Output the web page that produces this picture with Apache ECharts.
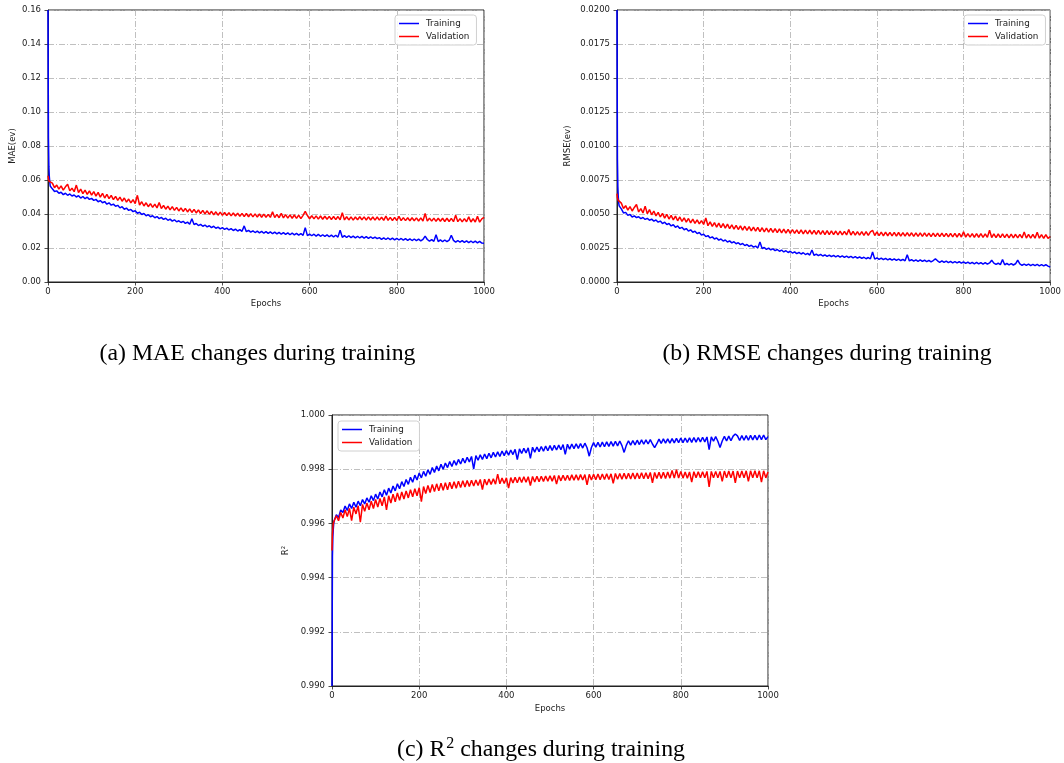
<!DOCTYPE html>
<html><head><meta charset="utf-8">
<script src="https://cdn.jsdelivr.net/npm/echarts@6/dist/echarts.min.js"></script>
<style>html,body{margin:0;padding:0;background:#fff}#c{width:1064px;height:763px}</style>
</head><body><div id="c"></div>
<script>
var epochs = [0,1,2,3,4,5,
10,15,20,25,30,35,40,45,50,55,
60,65,70,75,80,85,90,95,100,105,
110,115,120,125,130,135,140,145,150,155,
160,165,170,175,180,185,190,195,200,205,
210,215,220,225,230,235,240,245,250,255,
260,265,270,275,280,285,290,295,300,305,
310,315,320,325,330,335,340,345,350,355,
360,365,370,375,380,385,390,395,400,405,
410,415,420,425,430,435,440,445,450,455,
460,465,470,475,480,485,490,495,500,505,
510,515,520,525,530,535,540,545,550,555,
560,565,570,575,580,585,590,595,600,605,
610,615,620,625,630,635,640,645,650,655,
660,665,670,675,680,685,690,695,700,705,
710,715,720,725,730,735,740,745,750,755,
760,765,770,775,780,785,790,795,800,805,
810,815,820,825,830,835,840,845,850,855,
860,865,870,875,880,885,890,895,900,905,
910,915,920,925,930,935,940,945,950,955,
960,965,970,975,980,985,990,995,1000];

var maeTrain = [0.1600,0.0850,0.0680,0.0620,0.0590,0.0565,
0.0548,0.0532,0.0536,0.0522,0.0528,0.0514,0.0522,0.0510,0.0518,0.0506,
0.0512,0.0500,0.0508,0.0494,0.0503,0.0490,0.0499,0.0486,0.0492,0.0480,
0.0486,0.0472,0.0479,0.0466,0.0473,0.0458,0.0466,0.0452,0.0458,0.0446,
0.0451,0.0436,0.0443,0.0428,0.0435,0.0421,0.0427,0.0414,0.0419,0.0404,
0.0410,0.0397,0.0403,0.0390,0.0396,0.0384,0.0390,0.0378,0.0385,0.0373,
0.0380,0.0368,0.0375,0.0363,0.0370,0.0358,0.0366,0.0354,0.0360,0.0350,
0.0357,0.0345,0.0352,0.0340,0.0372,0.0338,0.0344,0.0332,0.0339,0.0328,
0.0335,0.0324,0.0331,0.0320,0.0328,0.0316,0.0323,0.0313,0.0320,0.0310,
0.0317,0.0306,0.0314,0.0303,0.0311,0.0300,0.0308,0.0298,0.0330,0.0296,
0.0304,0.0293,0.0301,0.0291,0.0299,0.0289,0.0298,0.0287,0.0296,0.0286,
0.0295,0.0284,0.0293,0.0283,0.0292,0.0281,0.0290,0.0280,0.0289,0.0278,
0.0288,0.0277,0.0286,0.0276,0.0285,0.0274,0.0320,0.0273,0.0282,0.0272,
0.0281,0.0270,0.0280,0.0269,0.0278,0.0268,0.0277,0.0266,0.0276,0.0265,
0.0275,0.0264,0.0305,0.0263,0.0273,0.0262,0.0272,0.0261,0.0270,0.0260,
0.0269,0.0259,0.0268,0.0258,0.0267,0.0257,0.0266,0.0256,0.0264,0.0255,
0.0261,0.0251,0.0260,0.0250,0.0259,0.0249,0.0258,0.0248,0.0257,0.0247,
0.0256,0.0246,0.0255,0.0245,0.0254,0.0244,0.0253,0.0243,0.0252,0.0242,
0.0251,0.0270,0.0250,0.0240,0.0249,0.0239,0.0278,0.0238,0.0248,0.0237,
0.0247,0.0237,0.0246,0.0275,0.0245,0.0235,0.0244,0.0234,0.0243,0.0233,
0.0242,0.0232,0.0241,0.0231,0.0240,0.0230,0.0239,0.0229,0.0228];

var maeVal = [0.0625,0.0605,0.0598,0.0592,0.0588,0.0585,
0.0582,0.0555,0.0570,0.0546,0.0565,0.0540,0.0560,0.0575,0.0536,0.0552,
0.0531,0.0570,0.0526,0.0546,0.0520,0.0540,0.0515,0.0536,0.0511,0.0532,
0.0505,0.0527,0.0499,0.0522,0.0494,0.0516,0.0490,0.0510,0.0485,0.0504,
0.0480,0.0499,0.0475,0.0494,0.0470,0.0488,0.0465,0.0484,0.0461,0.0510,
0.0453,0.0472,0.0447,0.0466,0.0443,0.0461,0.0439,0.0458,0.0436,0.0468,
0.0432,0.0451,0.0428,0.0446,0.0424,0.0443,0.0421,0.0439,0.0418,0.0436,
0.0415,0.0433,0.0412,0.0430,0.0409,0.0427,0.0406,0.0424,0.0403,0.0421,
0.0401,0.0419,0.0398,0.0416,0.0395,0.0413,0.0393,0.0411,0.0392,0.0409,
0.0391,0.0408,0.0389,0.0406,0.0388,0.0405,0.0386,0.0404,0.0385,0.0403,
0.0384,0.0402,0.0383,0.0401,0.0382,0.0400,0.0381,0.0399,0.0381,0.0398,
0.0380,0.0413,0.0379,0.0398,0.0378,0.0404,0.0377,0.0396,0.0376,0.0395,
0.0375,0.0394,0.0374,0.0393,0.0373,0.0392,0.0415,0.0391,0.0372,0.0390,
0.0371,0.0389,0.0370,0.0388,0.0369,0.0387,0.0369,0.0386,0.0368,0.0385,
0.0367,0.0385,0.0366,0.0407,0.0365,0.0384,0.0365,0.0383,0.0364,0.0382,
0.0366,0.0384,0.0366,0.0383,0.0365,0.0383,0.0365,0.0382,0.0364,0.0382,
0.0364,0.0381,0.0363,0.0388,0.0363,0.0380,0.0362,0.0380,0.0362,0.0386,
0.0361,0.0379,0.0361,0.0378,0.0360,0.0378,0.0360,0.0377,0.0359,0.0377,
0.0359,0.0403,0.0358,0.0376,0.0358,0.0376,0.0357,0.0375,0.0357,0.0375,
0.0356,0.0375,0.0356,0.0374,0.0355,0.0392,0.0355,0.0373,0.0354,0.0373,
0.0354,0.0383,0.0353,0.0372,0.0353,0.0386,0.0352,0.0371,0.0380];

var rmseTrain = [0.02000,0.00900,0.00700,0.00620,0.00580,0.00560,
0.00538,0.00508,0.00512,0.00490,0.00497,0.00478,0.00486,0.00474,0.00480,0.00466,
0.00474,0.00460,0.00468,0.00454,0.00462,0.00448,0.00456,0.00440,0.00448,0.00430,
0.00440,0.00422,0.00430,0.00412,0.00421,0.00402,0.00412,0.00394,0.00402,0.00384,
0.00393,0.00374,0.00384,0.00366,0.00374,0.00356,0.00364,0.00345,0.00352,0.00334,
0.00341,0.00324,0.00332,0.00316,0.00324,0.00308,0.00316,0.00301,0.00309,0.00294,
0.00302,0.00288,0.00296,0.00281,0.00289,0.00275,0.00283,0.00268,0.00276,0.00262,
0.00270,0.00256,0.00264,0.00250,0.00295,0.00246,0.00254,0.00240,0.00249,0.00236,
0.00244,0.00231,0.00239,0.00226,0.00235,0.00221,0.00230,0.00217,0.00226,0.00213,
0.00222,0.00209,0.00218,0.00206,0.00215,0.00202,0.00211,0.00198,0.00235,0.00196,
0.00205,0.00194,0.00203,0.00191,0.00200,0.00189,0.00198,0.00187,0.00196,0.00185,
0.00194,0.00183,0.00192,0.00181,0.00190,0.00180,0.00188,0.00177,0.00186,0.00175,
0.00184,0.00173,0.00182,0.00171,0.00180,0.00170,0.00220,0.00168,0.00177,0.00166,
0.00175,0.00164,0.00173,0.00162,0.00171,0.00161,0.00170,0.00159,0.00168,0.00158,
0.00167,0.00156,0.00200,0.00155,0.00165,0.00154,0.00163,0.00152,0.00162,0.00151,
0.00160,0.00149,0.00159,0.00148,0.00158,0.00170,0.00156,0.00145,0.00155,0.00144,
0.00153,0.00142,0.00152,0.00141,0.00150,0.00140,0.00149,0.00138,0.00148,0.00137,
0.00146,0.00135,0.00145,0.00134,0.00144,0.00133,0.00143,0.00132,0.00142,0.00131,
0.00140,0.00160,0.00139,0.00129,0.00138,0.00128,0.00165,0.00127,0.00136,0.00126,
0.00135,0.00125,0.00134,0.00160,0.00133,0.00123,0.00132,0.00122,0.00131,0.00121,
0.00130,0.00120,0.00129,0.00119,0.00128,0.00118,0.00127,0.00117,0.00110];

var rmseVal = [0.00650,0.00620,0.00610,0.00600,0.00590,0.00590,
0.00580,0.00540,0.00562,0.00528,0.00555,0.00522,0.00548,0.00570,0.00515,0.00540,
0.00508,0.00558,0.00502,0.00532,0.00494,0.00522,0.00486,0.00512,0.00478,0.00505,
0.00470,0.00498,0.00463,0.00490,0.00457,0.00484,0.00450,0.00478,0.00445,0.00472,
0.00440,0.00467,0.00435,0.00462,0.00431,0.00457,0.00427,0.00452,0.00423,0.00470,
0.00414,0.00442,0.00409,0.00437,0.00404,0.00433,0.00400,0.00429,0.00396,0.00425,
0.00392,0.00421,0.00389,0.00417,0.00386,0.00413,0.00382,0.00410,0.00379,0.00407,
0.00376,0.00404,0.00374,0.00401,0.00371,0.00399,0.00369,0.00397,0.00367,0.00395,
0.00365,0.00393,0.00363,0.00391,0.00361,0.00389,0.00360,0.00387,0.00358,0.00386,
0.00357,0.00384,0.00356,0.00383,0.00354,0.00382,0.00353,0.00381,0.00352,0.00380,
0.00351,0.00379,0.00350,0.00378,0.00349,0.00377,0.00348,0.00376,0.00348,0.00375,
0.00347,0.00374,0.00346,0.00373,0.00346,0.00385,0.00345,0.00372,0.00344,0.00371,
0.00344,0.00370,0.00343,0.00370,0.00342,0.00369,0.00380,0.00342,0.00368,0.00341,
0.00367,0.00340,0.00366,0.00340,0.00365,0.00339,0.00365,0.00338,0.00364,0.00338,
0.00363,0.00337,0.00363,0.00337,0.00362,0.00336,0.00362,0.00336,0.00361,0.00335,
0.00361,0.00335,0.00360,0.00334,0.00360,0.00334,0.00359,0.00333,0.00359,0.00333,
0.00358,0.00332,0.00358,0.00332,0.00357,0.00331,0.00357,0.00331,0.00369,0.00330,
0.00356,0.00330,0.00356,0.00329,0.00355,0.00329,0.00355,0.00328,0.00354,0.00328,
0.00380,0.00327,0.00354,0.00327,0.00353,0.00326,0.00353,0.00326,0.00352,0.00325,
0.00352,0.00325,0.00351,0.00324,0.00351,0.00324,0.00367,0.00323,0.00350,0.00323,
0.00350,0.00322,0.00365,0.00322,0.00349,0.00321,0.00349,0.00321,0.00335];

var r2Train = [0.99000,0.99480,0.99550,0.99580,0.99600,0.99610,
0.99632,0.99622,0.99650,0.99640,0.99664,0.99648,0.99672,0.99655,0.99678,0.99660,
0.99682,0.99665,0.99688,0.99672,0.99694,0.99678,0.99702,0.99684,0.99708,0.99690,
0.99716,0.99698,0.99724,0.99704,0.99730,0.99712,0.99738,0.99720,0.99746,0.99728,
0.99754,0.99736,0.99762,0.99744,0.99770,0.99752,0.99778,0.99760,0.99786,0.99768,
0.99792,0.99774,0.99798,0.99781,0.99806,0.99788,0.99812,0.99794,0.99818,0.99800,
0.99823,0.99806,0.99828,0.99810,0.99832,0.99815,0.99836,0.99819,0.99840,0.99823,
0.99844,0.99827,0.99847,0.99800,0.99850,0.99833,0.99853,0.99836,0.99856,0.99839,
0.99859,0.99842,0.99862,0.99845,0.99864,0.99847,0.99867,0.99850,0.99869,0.99852,
0.99871,0.99854,0.99873,0.99835,0.99875,0.99858,0.99877,0.99860,0.99879,0.99840,
0.99881,0.99863,0.99882,0.99865,0.99884,0.99866,0.99885,0.99868,0.99887,0.99869,
0.99888,0.99871,0.99889,0.99872,0.99891,0.99855,0.99892,0.99874,0.99893,0.99876,
0.99894,0.99877,0.99895,0.99878,0.99896,0.99879,0.99848,0.99880,0.99898,0.99881,
0.99899,0.99882,0.99900,0.99883,0.99901,0.99884,0.99902,0.99885,0.99903,0.99886,
0.99904,0.99887,0.99862,0.99888,0.99905,0.99889,0.99906,0.99890,0.99907,0.99891,
0.99908,0.99892,0.99908,0.99893,0.99909,0.99893,0.99880,0.99894,0.99911,0.99895,
0.99912,0.99896,0.99912,0.99896,0.99913,0.99897,0.99914,0.99898,0.99915,0.99898,
0.99915,0.99899,0.99916,0.99899,0.99917,0.99900,0.99917,0.99901,0.99918,0.99901,
0.99919,0.99872,0.99919,0.99903,0.99920,0.99903,0.99880,0.99904,0.99921,0.99904,
0.99922,0.99905,0.99922,0.99930,0.99923,0.99906,0.99924,0.99907,0.99924,0.99907,
0.99925,0.99908,0.99925,0.99908,0.99926,0.99909,0.99926,0.99909,0.99920];

var r2Val = [0.99500,0.99560,0.99580,0.99600,0.99600,0.99610,
0.99628,0.99610,0.99640,0.99620,0.99650,0.99625,0.99655,0.99610,0.99660,0.99635,
0.99665,0.99605,0.99670,0.99645,0.99675,0.99650,0.99682,0.99655,0.99688,0.99660,
0.99692,0.99665,0.99698,0.99650,0.99702,0.99675,0.99708,0.99680,0.99712,0.99685,
0.99716,0.99690,0.99720,0.99694,0.99724,0.99698,0.99728,0.99702,0.99732,0.99680,
0.99736,0.99710,0.99740,0.99714,0.99744,0.99718,0.99746,0.99720,0.99748,0.99722,
0.99750,0.99724,0.99752,0.99728,0.99754,0.99730,0.99756,0.99732,0.99757,0.99734,
0.99758,0.99736,0.99759,0.99738,0.99760,0.99740,0.99762,0.99725,0.99763,0.99742,
0.99764,0.99744,0.99765,0.99745,0.99782,0.99746,0.99767,0.99747,0.99768,0.99730,
0.99769,0.99749,0.99770,0.99750,0.99771,0.99751,0.99772,0.99752,0.99772,0.99740,
0.99773,0.99753,0.99774,0.99754,0.99774,0.99755,0.99775,0.99756,0.99776,0.99756,
0.99777,0.99745,0.99777,0.99757,0.99778,0.99758,0.99778,0.99758,0.99779,0.99759,
0.99779,0.99759,0.99780,0.99760,0.99780,0.99742,0.99781,0.99760,0.99781,0.99761,
0.99782,0.99761,0.99782,0.99762,0.99783,0.99762,0.99783,0.99748,0.99784,0.99763,
0.99784,0.99763,0.99785,0.99764,0.99785,0.99764,0.99786,0.99764,0.99786,0.99765,
0.99787,0.99765,0.99787,0.99765,0.99788,0.99750,0.99788,0.99766,0.99789,0.99766,
0.99789,0.99766,0.99790,0.99767,0.99795,0.99767,0.99798,0.99767,0.99792,0.99767,
0.99790,0.99767,0.99790,0.99752,0.99791,0.99768,0.99791,0.99768,0.99791,0.99768,
0.99792,0.99735,0.99792,0.99768,0.99792,0.99768,0.99792,0.99755,0.99793,0.99768,
0.99793,0.99768,0.99793,0.99750,0.99793,0.99768,0.99793,0.99768,0.99794,0.99755,
0.99794,0.99768,0.99794,0.99768,0.99794,0.99752,0.99794,0.99768,0.99790];

var xTicks = [0, 200, 400, 600, 800, 1000];
var seriesNames = ['Training', 'Validation'];
var captions = ['(a) MAE changes during training', '(b) RMSE changes during training', '(c) R{s|2} changes during training'];
var yNames = ['MAE(ev)', 'RMSE(ev)', 'R\u00B2'];

var TXT = '#222';
var FONT = 'DejaVu Sans';
function pairs(v){ return epochs.map(function(e,i){ return [e, v[i]]; }); }

function mkX(gi, gap){
  return {type:'value', gridIndex:gi, min:xTicks[0], max:xTicks[xTicks.length-1], interval:xTicks[1]-xTicks[0],
    name:'Epochs', nameLocation:'middle', nameGap:gap,
    nameTextStyle:{fontSize:8.5, color:TXT, fontFamily:FONT},
    axisLine:{show:true, onZero:false, lineStyle:{color:TXT, width:1}},
    axisTick:{show:true, length:3.5, lineStyle:{color:TXT, width:0.8}},
    axisLabel:{fontSize:8.5, color:TXT, margin:5, fontFamily:FONT, formatter:function(v){ return String(v); }},
    splitLine:{show:true, lineStyle:{color:'#b0b0b0', width:0.8, type:[6,2,1,2]}}};
}
function mkY(gi, name, gap, min, max, step, dec){
  return {type:'value', gridIndex:gi, min:min, max:max, interval:step,
    name:name, nameLocation:'middle', nameGap:gap,
    nameTextStyle:{fontSize:8.5, color:TXT, fontFamily:FONT},
    axisLine:{show:true, onZero:false, lineStyle:{color:TXT, width:1}},
    axisTick:{show:true, length:3.5, lineStyle:{color:TXT, width:0.8}},
    axisLabel:{fontSize:8.5, color:TXT, margin:7, fontFamily:FONT, formatter:function(v){ return v.toFixed(dec); }},
    splitLine:{show:true, lineStyle:{color:'#b0b0b0', width:0.8, type:[6,2,1,2]}}};
}
function mkLeg(l, t){
  return {left:l, top:t, orient:'vertical', data:seriesNames, icon:'rect', itemWidth:20, itemHeight:1.5, itemGap:2,
    padding:[3,7,3,4], borderColor:'#d0d0d0', borderWidth:1, borderRadius:3, backgroundColor:'rgba(255,255,255,0.85)',
    selectedMode:false, textStyle:{fontSize:8.8, color:TXT, fontFamily:FONT, lineHeight:11, padding:[0,0,0,2]}};
}
function mkS(name, xi, v, color){
  return {type:'line', name:name, xAxisIndex:xi, yAxisIndex:xi, data:pairs(v), symbol:'none', showSymbol:false,
    lineStyle:{width:1.5, color:color}, itemStyle:{color:color}, clip:true, animation:false};
}

var chart = echarts.init(document.getElementById('c'), null, {renderer:'canvas'});
chart.setOption({
  animation:false,
  textStyle:{fontFamily:FONT},
  grid:[
    {left:48, top:10, width:436, height:272, show:true, borderColor:TXT, borderWidth:1, backgroundColor:'transparent'},
    {left:617, top:10, width:435, height:272, show:true, borderColor:TXT, borderWidth:1, backgroundColor:'transparent'},
    {left:332, top:415, width:436, height:271, show:true, borderColor:TXT, borderWidth:1, backgroundColor:'transparent'}
  ],
  xAxis:[mkX(0,17), mkX(1,17), mkX(2,18)],
  yAxis:[mkY(0, yNames[0], 31, 0, 0.16, 0.02, 2), mkY(1, yNames[1], 45, 0, 0.02, 0.0025, 4), mkY(2, yNames[2], 42, 0.99, 1.0, 0.002, 3)],
  legend:[mkLeg(395,15), mkLeg(964,15), mkLeg(338,421)],
  series:[
    mkS(seriesNames[0], 0, maeTrain, '#0000ff'),
    mkS(seriesNames[1], 0, maeVal, '#ff0000'),
    mkS(seriesNames[0], 1, rmseTrain, '#0000ff'),
    mkS(seriesNames[1], 1, rmseVal, '#ff0000'),
    mkS(seriesNames[0], 2, r2Train, '#0000ff'),
    mkS(seriesNames[1], 2, r2Val, '#ff0000')
  ],
  graphic:[
    {type:'text', x:257.5, y:354, style:{text:captions[0], fontSize:23.8, fontFamily:'Liberation Serif', fill:'#000', align:'center', verticalAlign:'middle'}},
    {type:'text', x:827, y:354, style:{text:captions[1], fontSize:23.8, fontFamily:'Liberation Serif', fill:'#000', align:'center', verticalAlign:'middle'}},
    {type:'text', x:541, y:750, style:{text:captions[2], fontSize:23.8, fontFamily:'Liberation Serif', fill:'#000', align:'center', verticalAlign:'middle',
      rich:{s:{fontSize:16, fontFamily:'Liberation Serif', fill:'#000', verticalAlign:'top', padding:[0,0,12,1]}}}}
  ]
});
</script></body></html>
